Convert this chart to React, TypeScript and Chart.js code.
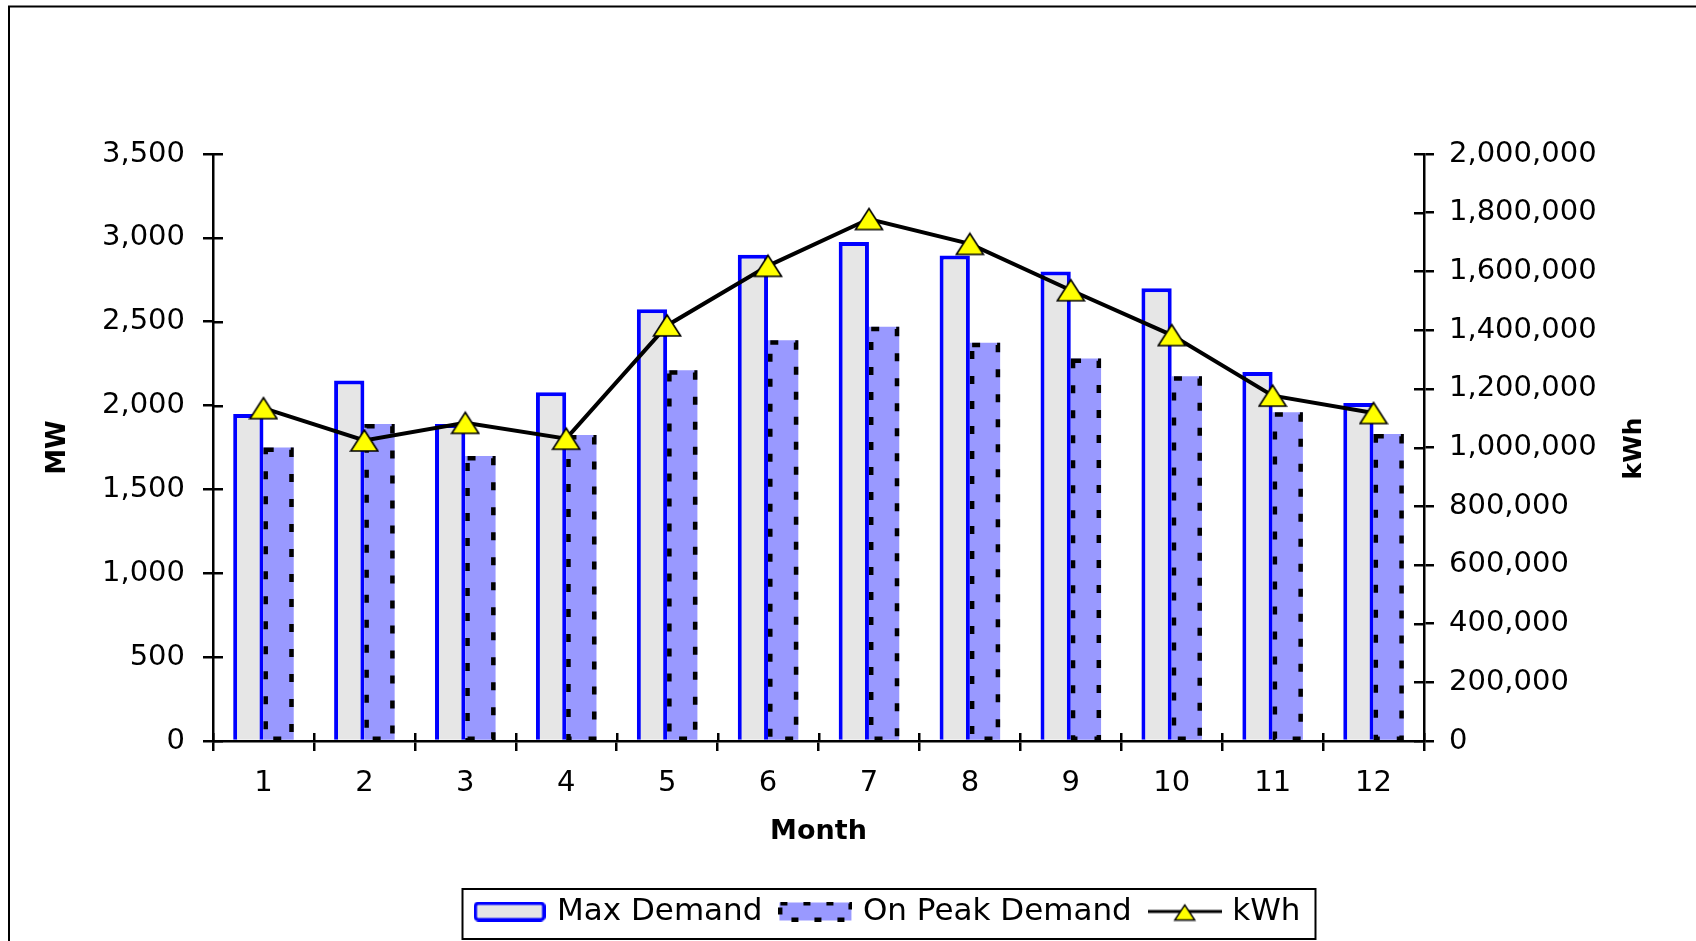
import React, { useEffect, useRef } from "react";
import { Chart, registerables } from "chart.js";

Chart.register(...registerables);

// ---------- data ----------
const months = ["1", "2", "3", "4", "5", "6", "7", "8", "9", "10", "11", "12"];
const maxDemand = [1950, 2150, 1890, 2080, 2575, 2900, 2975, 2895, 2800, 2700, 2200, 2015];
const onPeakDemand = [1750, 1890, 1700, 1825, 2210, 2390, 2470, 2375, 2280, 2175, 1960, 1830];
const kwh = [1134000, 1024000, 1084000, 1030000, 1416000, 1619000, 1778500, 1693600, 1535800, 1383000, 1176800, 1117500];
const seriesNames = ["Max Demand", "On Peak Demand", "kWh"];
const axisTitles = { left: "MW", right: "kWh", bottom: "Month" };
const mwRange = { min: 0, max: 3500, step: 500 };
const kwhRange = { min: 0, max: 2000000, step: 200000 };

const FONT = "'DejaVu Sans', sans-serif";
const GRAY = "#E6E6E6";
const BLUE = "#0000FF";
const LAVENDER = "#9999FF";
const YELLOW = "#FFFF00";

function makeCanvas(w: number, h: number, draw: (ctx: CanvasRenderingContext2D) => void) {
  const c = document.createElement("canvas");
  c.width = w;
  c.height = h;
  const ctx = c.getContext("2d")!;
  draw(ctx);
  return c;
}

function triPath(ctx: CanvasRenderingContext2D, cx: number, cy: number, w: number, h: number) {
  ctx.beginPath();
  ctx.moveTo(cx, cy - h / 2);
  ctx.lineTo(cx + w / 2, cy + h / 2);
  ctx.lineTo(cx - w / 2, cy + h / 2);
  ctx.closePath();
}

function buildImages() {
  const marker = makeCanvas(30, 25, (ctx) => {
    triPath(ctx, 15, 12.5, 27, 21);
    ctx.fillStyle = YELLOW;
    ctx.fill();
    ctx.lineWidth = 1.6;
    ctx.lineJoin = "miter";
    ctx.strokeStyle = "#000";
    ctx.stroke();
  });
  const swMax = makeCanvas(72, 20, (ctx) => {
    ctx.fillStyle = GRAY;
    ctx.fillRect(2, 2, 68, 16);
    ctx.strokeStyle = BLUE;
    ctx.lineWidth = 3.5;
    ctx.beginPath();
    (ctx as any).roundRect ? (ctx as any).roundRect(1.75, 1.75, 68.5, 16.5, 3) : ctx.rect(1.75, 1.75, 68.5, 16.5);
    ctx.stroke();
  });
  const swPeak = makeCanvas(74, 20, (ctx) => {
    ctx.fillStyle = LAVENDER;
    ctx.fillRect(1, 1, 72, 18);
    ctx.strokeStyle = "#000";
    ctx.lineWidth = 4;
    ctx.setLineDash([7, 16]);
    ctx.strokeRect(2, 2, 70, 16);
  });
  const swLine = makeCanvas(74, 20, (ctx) => {
    ctx.strokeStyle = "#000";
    ctx.lineWidth = 3;
    ctx.beginPath();
    ctx.moveTo(0, 10);
    ctx.lineTo(74, 10);
    ctx.stroke();
    triPath(ctx, 37, 11, 20, 15);
    ctx.fillStyle = YELLOW;
    ctx.fill();
    ctx.lineWidth = 1.4;
    ctx.stroke();
  });
  return { marker, swMax, swPeak, swLine };
}

const fmt = (v: any) => Number(v).toLocaleString("en-US");

export default function App() {
  const ref = useRef<HTMLCanvasElement>(null);

  useEffect(() => {
    const imgs = buildImages();

    const decor = {
      id: "decor",
      beforeDraw(chart: any) {
        const ctx = chart.ctx;
        ctx.save();
        ctx.fillStyle = "#fff";
        ctx.fillRect(0, 0, chart.width, chart.height);
        ctx.strokeStyle = "#000";
        ctx.lineWidth = 2;
        ctx.beginPath();
        ctx.moveTo(9, chart.height);
        ctx.lineTo(9, 6.5);
        ctx.lineTo(chart.width, 6.5);
        ctx.stroke();
        ctx.restore();
      },
      afterLayout(chart: any) {
        const lg = chart.legend;
        if (lg) {
          lg.left += 41;
          lg.right += 41;
        }
      },
      afterDatasetDraw(chart: any, args: any) {
        if (args.index !== 1) return;
        const ctx = chart.ctx;
        ctx.save();
        ctx.strokeStyle = "#000";
        ctx.lineWidth = 4.5;
        ctx.setLineDash([8, 17]);
        args.meta.data.forEach((el: any) => {
          const p = el.getProps(["x", "y", "base", "width"], true);
          const l = p.x - p.width / 2 + 2.25;
          const r = p.x + p.width / 2 - 2.25;
          const t = p.y + 2.25;
          const b = p.base - 1;
          ctx.strokeRect(l, t, r - l, b - t);
        });
        ctx.restore();
      },
      afterDraw(chart: any) {
        const ctx = chart.ctx;
        const { left, right, bottom } = chart.chartArea;
        ctx.save();
        ctx.strokeStyle = "#000";
        ctx.lineWidth = 2.5;
        ctx.beginPath();
        const yl = chart.scales.y;
        yl.ticks.forEach((t: any) => {
          const py = Math.round(yl.getPixelForValue(t.value)) + 0.25;
          ctx.moveTo(left, py);
          ctx.lineTo(left + 10, py);
        });
        const yr = chart.scales.y1;
        yr.ticks.forEach((t: any) => {
          const py = Math.round(yr.getPixelForValue(t.value)) + 0.25;
          ctx.moveTo(right - 10, py);
          ctx.lineTo(right, py);
        });
        const xs = chart.scales.x;
        for (let i = 0; i <= months.length; i++) {
          const px = Math.round(xs.getPixelForValue(i - 0.5)) + 0.25;
          ctx.moveTo(px, bottom);
          ctx.lineTo(px, bottom - 8);
        }
        ctx.stroke();

        // legend frame
        const lg = chart.legend;
        const hb = lg && lg.legendHitBoxes;
        if (hb && hb.length) {
          const first = hb[0];
          const last = hb[hb.length - 1];
          const x0 = first.left - 15;
          const x1 = last.left + last.width + 15;
          const y0 = first.top - 7;
          const y1 = first.top + first.height + 12;
          ctx.lineWidth = 2;
          ctx.strokeRect(x0, y0, x1 - x0, y1 - y0);
        }

        // right axis title (reads bottom to top)
        ctx.fillStyle = "#000";
        ctx.font = `bold 25px ${FONT}`;
        ctx.textAlign = "center";
        ctx.textBaseline = "middle";
        ctx.translate(1634, (chart.chartArea.top + bottom) / 2 + 1);
        ctx.rotate(-Math.PI / 2);
        ctx.fillText(axisTitles.right, 0, 0);
        ctx.restore();
      },
    };

    const tickFont = { family: FONT, size: 29 };
    const axisGrid = {
      display: true,
      drawOnChartArea: false,
      drawTicks: true,
      tickLength: 10,
      color: "#000",
      lineWidth: 2.5,
    };
    const axisBorder = { display: true, color: "#000", width: 2.5 };

    const chart = new Chart(ref.current!, {
      type: "bar",
      data: {
        labels: months,
        datasets: [
          {
            type: "bar",
            label: seriesNames[0],
            data: maxDemand,
            yAxisID: "y",
            backgroundColor: GRAY,
            borderColor: BLUE,
            borderWidth: 4,
            borderSkipped: "start",
            categoryPercentage: 0.6,
            barPercentage: 1.0,
            order: 1,
          },
          {
            type: "bar",
            label: seriesNames[1],
            data: onPeakDemand,
            yAxisID: "y",
            backgroundColor: LAVENDER,
            borderWidth: 0,
            categoryPercentage: 0.6,
            barPercentage: 1.0,
            order: 1,
          },
          {
            type: "line",
            label: seriesNames[2],
            data: kwh,
            yAxisID: "y1",
            borderColor: "#000",
            borderWidth: 4,
            tension: 0,
            fill: false,
            pointStyle: imgs.marker as any,
            pointRadius: 12,
            pointHoverRadius: 12,
            order: 0,
          },
        ] as any,
      },
      options: {
        responsive: false,
        animation: false,
        events: [],
        layout: { padding: { top: 154, left: 0, right: 0, bottom: 4 } },
        plugins: {
          tooltip: { enabled: false },
          title: { display: false },
          legend: {
            display: true,
            position: "bottom",
            labels: {
              usePointStyle: true,
              pointStyleWidth: 64,
              padding: 21,
              color: "#000",
              font: { family: FONT, size: 31 },
              generateLabels: () => [
                { text: seriesNames[0], pointStyle: imgs.swMax, datasetIndex: 0, hidden: false, fillStyle: GRAY, strokeStyle: BLUE, lineWidth: 0, fontColor: "#000" },
                { text: seriesNames[1], pointStyle: imgs.swPeak, datasetIndex: 1, hidden: false, fillStyle: LAVENDER, strokeStyle: "#000", lineWidth: 0, fontColor: "#000" },
                { text: seriesNames[2], pointStyle: imgs.swLine, datasetIndex: 2, hidden: false, fillStyle: YELLOW, strokeStyle: "#000", lineWidth: 0, fontColor: "#000" },
              ] as any,
            },
          },
        },
        scales: {
          x: {
            type: "category",
            offset: true,
            grid: { ...axisGrid, offset: true },
            border: axisBorder,
            ticks: { color: "#000", font: tickFont, padding: 15, maxRotation: 0, autoSkip: false },
            title: {
              display: true,
              text: axisTitles.bottom,
              color: "#000",
              font: { family: FONT, size: 27, weight: "bold" },
              padding: { top: 0, bottom: 27 },
            },
            afterFit: (s: any) => {
              s.height = 134;
            },
          } as any,
          y: {
            type: "linear",
            position: "left",
            min: mwRange.min,
            max: mwRange.max,
            grid: axisGrid,
            border: axisBorder,
            ticks: { stepSize: mwRange.step, color: "#000", font: tickFont, padding: 18, callback: fmt },
            title: {
              display: true,
              text: axisTitles.left,
              color: "#000",
              font: { family: FONT, size: 26, weight: "bold" },
              padding: { top: 43, bottom: 0 },
            },
            afterFit: (s: any) => {
              s.width = 213;
            },
          } as any,
          y1: {
            type: "linear",
            position: "right",
            min: kwhRange.min,
            max: kwhRange.max,
            grid: axisGrid,
            border: axisBorder,
            ticks: { stepSize: kwhRange.step, color: "#000", font: tickFont, padding: 15, callback: fmt },
            title: { display: false },
            afterFit: (s: any) => {
              s.width = 272;
            },
          } as any,
        },
      },
      plugins: [decor as any],
    });

    return () => chart.destroy();
  }, []);

  return (
    <div style={{ position: "absolute", left: 0, top: 0, width: 1696, height: 941, overflow: "hidden", background: "#fff" }}>
      <canvas ref={ref} width={1696} height={941} style={{ display: "block", width: 1696, height: 941 }} />
    </div>
  );
}
